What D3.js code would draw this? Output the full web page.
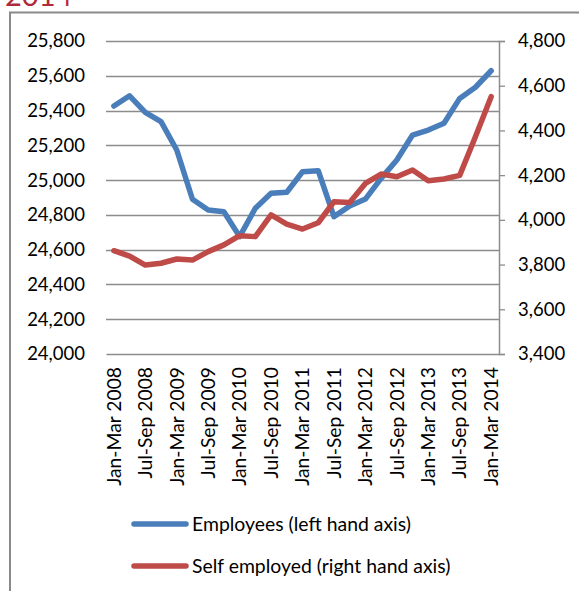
<!DOCTYPE html>
<html>
<head>
<meta charset="utf-8">
<script src="https://cdn.jsdelivr.net/npm/d3@7"></script>
<style>
  html, body { margin: 0; padding: 0; background: #fff; }
  svg { display: block; font-family: Lato, "Open Sans", sans-serif; }
</style>
</head>
<body>
<svg id="chart" width="579" height="591"></svg>
<script>
// Quarterly labour market figures, thousands
const quarters = [
  "Jan-Mar 2008", "Apr-Jun 2008", "Jul-Sep 2008", "Oct-Dec 2008",
  "Jan-Mar 2009", "Apr-Jun 2009", "Jul-Sep 2009", "Oct-Dec 2009",
  "Jan-Mar 2010", "Apr-Jun 2010", "Jul-Sep 2010", "Oct-Dec 2010",
  "Jan-Mar 2011", "Apr-Jun 2011", "Jul-Sep 2011", "Oct-Dec 2011",
  "Jan-Mar 2012", "Apr-Jun 2012", "Jul-Sep 2012", "Oct-Dec 2012",
  "Jan-Mar 2013", "Apr-Jun 2013", "Jul-Sep 2013", "Oct-Dec 2013",
  "Jan-Mar 2014"
];
const employees = [
  25426, 25485, 25390, 25336, 25173, 24890, 24828, 24818, 24675, 24838,
  24924, 24930, 25048, 25054, 24790, 24851, 24891, 25010, 25116, 25259,
  25288, 25327, 25470, 25534, 25629
];
const selfEmployed = [
  3862, 3838, 3798, 3806, 3825, 3820, 3858, 3888, 3929, 3925,
  4022, 3981, 3959, 3987, 4081, 4078, 4163, 4205, 4193, 4223,
  4175, 4183, 4199, 4372, 4551
];
const leftTicks = [24000, 24200, 24400, 24600, 24800, 25000, 25200, 25400, 25600, 25800];
const rightTicks = [3400, 3600, 3800, 4000, 4200, 4400, 4600, 4800];
const seriesNames = ["Employees (left hand axis)", "Self employed (right hand axis)"];
const seriesColors = ["#4a7ebb", "#be4b48"];

const svg = d3.select("#chart");
const plotLeft = 106, plotRight = 499, plotTop = 41, plotBottom = 354;
const fmt = d3.format(",");

// outer frame and the heading that sits above it
svg.append("text")
  .attr("x", 5).attr("y", 6)
  .attr("font-size", 29).attr("fill", "#b02a3e")
  .text("2014");
svg.append("rect")
  .attr("x", 10).attr("y", 12.5)
  .attr("width", 600).attr("height", 600)
  .attr("fill", "none").attr("stroke", "#8a8a8a").attr("stroke-width", 2);

const x = d3.scaleBand().domain(quarters).range([plotLeft, plotRight]);
const yL = d3.scaleLinear().domain([24000, 25800]).range([plotBottom, plotTop]);
const yR = d3.scaleLinear().domain([3400, 4800]).range([plotBottom, plotTop]);
const cx = d => x(d) + x.bandwidth() / 2;

// horizontal gridlines for the left axis
svg.append("g").selectAll("line").data(leftTicks.slice(1)).join("line")
  .attr("x1", plotLeft).attr("x2", plotRight)
  .attr("y1", d => Math.round(yL(d)) + 0.5).attr("y2", d => Math.round(yL(d)) + 0.5)
  .attr("stroke", "#8c8c8c").attr("stroke-width", 1.3);

// left axis labels (no axis line)
const gL = svg.append("g").attr("transform", `translate(${plotLeft},0)`)
  .call(d3.axisLeft(yL).tickValues(leftTicks).tickFormat(fmt).tickSize(0).tickPadding(21));
gL.select(".domain").remove();
gL.selectAll("text").attr("font-size", 18.5).attr("fill", "#000").attr("font-family", "Lato, sans-serif");

// right axis with outward ticks
const gR = svg.append("g").attr("transform", `translate(${plotRight},0)`)
  .call(d3.axisRight(yR).tickValues(rightTicks).tickFormat(fmt).tickSize(6).tickPadding(13));
gR.select(".domain").attr("stroke", "#8c8c8c").attr("stroke-width", 1.5);
gR.selectAll(".tick line").attr("stroke", "#8c8c8c").attr("stroke-width", 1.3);
gR.selectAll("text").attr("font-size", 18.5).attr("fill", "#000").attr("font-family", "Lato, sans-serif");

// category axis, every second quarter labelled
const gX = svg.append("g").attr("transform", `translate(0,${plotBottom})`)
  .call(d3.axisBottom(x).tickValues(quarters.filter((q, i) => i % 2 === 0)).tickSize(0).tickPadding(0));
gX.select(".domain").attr("stroke", "#8c8c8c").attr("stroke-width", 1.5);
gX.selectAll("text")
  .attr("font-size", 19.3).attr("fill", "#000").attr("font-family", "Lato, sans-serif")
  .attr("transform", "rotate(-90)")
  .attr("text-anchor", "end")
  .attr("x", -13).attr("y", 0).attr("dy", "0.35em");

// series lines
const lineL = d3.line().x((d, i) => cx(quarters[i])).y(d => yL(d));
const lineR = d3.line().x((d, i) => cx(quarters[i])).y(d => yR(d));
svg.append("path").datum(employees).attr("d", lineL)
  .attr("fill", "none").attr("stroke", seriesColors[0]).attr("stroke-width", 5.5)
  .attr("stroke-linejoin", "round").attr("stroke-linecap", "round");
svg.append("path").datum(selfEmployed).attr("d", lineR)
  .attr("fill", "none").attr("stroke", seriesColors[1]).attr("stroke-width", 5.5)
  .attr("stroke-linejoin", "round").attr("stroke-linecap", "round");

// legend
const legend = svg.append("g");
seriesNames.forEach((name, i) => {
  const ly = 524 + i * 42;
  legend.append("line")
    .attr("x1", 134).attr("x2", 186).attr("y1", ly).attr("y2", ly)
    .attr("stroke", seriesColors[i]).attr("stroke-width", 5.5).attr("stroke-linecap", "round");
  legend.append("text")
    .attr("x", 192).attr("y", ly).attr("dy", "0.35em")
    .attr("font-size", 19.4).attr("fill", "#000")
    .text(name);
});
</script>
</body>
</html>
